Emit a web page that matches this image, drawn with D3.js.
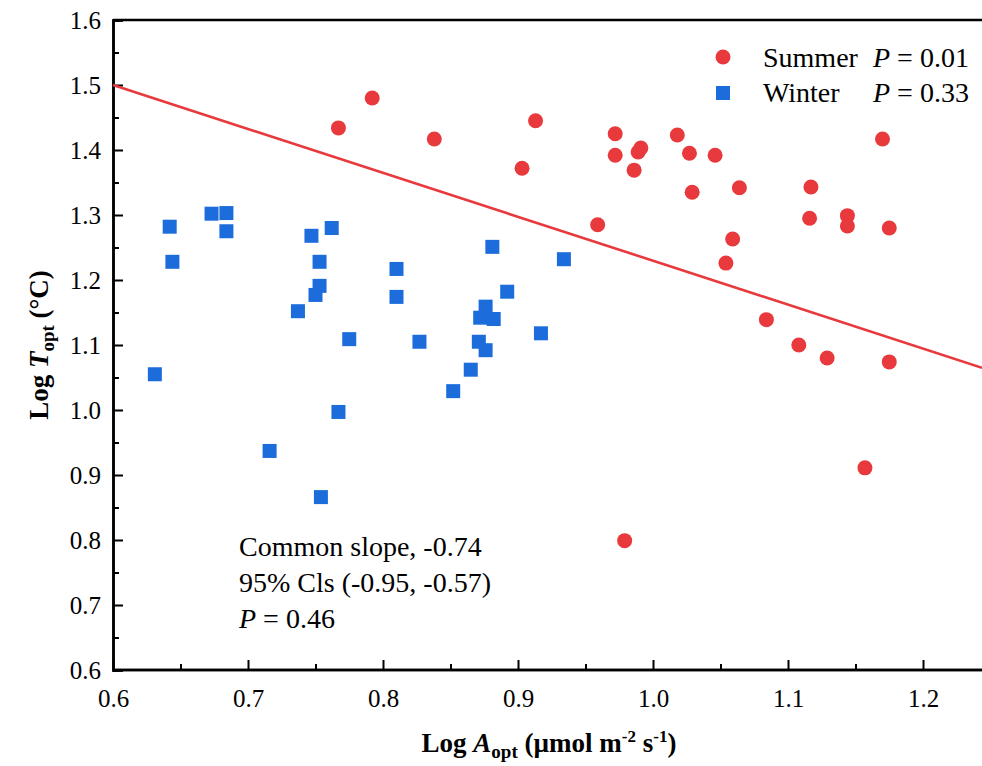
<!DOCTYPE html>
<html>
<head>
<meta charset="utf-8">
<script src="https://cdn.jsdelivr.net/npm/d3@7"></script>
<style>
  body { margin: 0; background: #fff; }
  svg text { font-family: "Times New Roman", "Liberation Serif", "DejaVu Serif", serif; fill: #000; }
</style>
</head>
<body>
<div id="chart"></div>
<script>
// summer points (log A_opt, log T_opt)
var summerX = [0.767, 0.792, 0.838, 0.903, 0.913, 0.959, 0.972, 0.972, 0.979, 0.986, 0.989, 0.991,
  1.018, 1.027, 1.029, 1.046, 1.054, 1.059, 1.064, 1.084, 1.108, 1.116, 1.117, 1.129, 1.144, 1.144,
  1.157, 1.170, 1.175, 1.175];
var summerY = [1.434, 1.480, 1.417, 1.372, 1.445, 1.285, 1.425, 1.392, 0.799, 1.369, 1.397, 1.403,
  1.423, 1.395, 1.335, 1.392, 1.226, 1.263, 1.342, 1.139, 1.100, 1.295, 1.343, 1.080, 1.299, 1.283,
  0.911, 1.417, 1.280, 1.074];

// winter points
var winterX = [0.631, 0.642, 0.644, 0.673, 0.684, 0.684, 0.716, 0.737, 0.747, 0.750, 0.753, 0.753,
  0.754, 0.762, 0.767, 0.775, 0.810, 0.810, 0.827, 0.852, 0.865, 0.871, 0.872, 0.876, 0.876, 0.881,
  0.882, 0.892, 0.917, 0.934];
var winterY = [1.055, 1.282, 1.228, 1.302, 1.303, 1.275, 0.937, 1.152, 1.268, 1.177, 1.191, 1.228,
  0.866, 1.280, 0.997, 1.109, 1.217, 1.174, 1.105, 1.029, 1.062, 1.105, 1.142, 1.159, 1.092, 1.251,
  1.140, 1.182, 1.118, 1.232];

// common slope line
var lineX = [0.6, 1.2437];
var lineY = [1.5, 1.065];

var xTicks = [0.6, 0.7, 0.8, 0.9, 1.0, 1.1, 1.2];
var yTicks = [0.6, 0.7, 0.8, 0.9, 1.0, 1.1, 1.2, 1.3, 1.4, 1.5, 1.6];

var legendLabels = ["Summer", "Winter"];
var legendP = ["0.01", "0.33"];
var noteLines = ["Common slope, -0.74", "95% Cls (-0.95, -0.57)"];
var noteP = "0.46";

var red = "#e8393d", blue = "#1c6ddb";
var serif = '"Times New Roman", "Liberation Serif", serif';

var W = 982, H = 766;
var margin = {top: 20, right: 0, bottom: 96, left: 113};

var svg = d3.select("#chart").append("svg")
  .attr("width", W).attr("height", H)
  .attr("font-family", serif);

var x = d3.scaleLinear().domain([0.6, 1.2437]).range([margin.left, W - margin.right]);
var y = d3.scaleLinear().domain([0.6, 1.6]).range([H - margin.bottom, margin.top]);

var minorX = d3.range(0.65, 1.25, 0.1);
var minorY = d3.range(0.65, 1.6, 0.1);

// top frame line
svg.append("line")
  .attr("x1", margin.left).attr("x2", W)
  .attr("y1", margin.top).attr("y2", margin.top)
  .attr("stroke", "#000").attr("stroke-width", 2.5);

// x axis
var gx = svg.append("g").attr("transform", "translate(0," + (H - margin.bottom) + ")");
gx.call(d3.axisBottom(x).tickValues(xTicks).tickSize(-10).tickPadding(19).tickFormat(d3.format(".1f")));
gx.append("g").call(d3.axisBottom(x).tickValues(minorX).tickSize(-6).tickFormat(""));
gx.attr("font-family", serif);
gx.selectAll(".domain").attr("stroke-width", 2.5).attr("d", "M" + margin.left + ",0H" + W);
gx.selectAll(".tick line").attr("stroke-width", 2);
gx.selectAll(".tick text").attr("font-family", serif).attr("font-size", 25);

// y axis
var gy = svg.append("g").attr("transform", "translate(" + margin.left + ",0)");
gy.call(d3.axisLeft(y).tickValues(yTicks).tickSize(-10).tickPadding(12).tickFormat(d3.format(".1f")));
gy.append("g").call(d3.axisLeft(y).tickValues(minorY).tickSize(-6).tickFormat(""));
gy.attr("font-family", serif);
gy.selectAll(".domain").attr("stroke-width", 2.5);
gy.selectAll(".tick line").attr("stroke-width", 2);
gy.selectAll(".tick text").attr("font-family", serif).attr("font-size", 25);

// fitted line
svg.append("path")
  .datum(d3.zip(lineX, lineY))
  .attr("d", d3.line().x(function(d) { return x(d[0]); }).y(function(d) { return y(d[1]); }))
  .attr("fill", "none").attr("stroke", red).attr("stroke-width", 2.6);

// winter squares
var s = 14;
svg.append("g").selectAll("rect")
  .data(d3.zip(winterX, winterY))
  .enter().append("rect")
    .attr("x", function(d) { return x(d[0]) - s / 2; })
    .attr("y", function(d) { return y(d[1]) - s / 2; })
    .attr("width", s).attr("height", s)
    .attr("fill", blue);

// summer circles
svg.append("g").selectAll("circle")
  .data(d3.zip(summerX, summerY))
  .enter().append("circle")
    .attr("cx", function(d) { return x(d[0]); })
    .attr("cy", function(d) { return y(d[1]); })
    .attr("r", 7.5)
    .attr("fill", red);

// legend
var leg = svg.append("g");
leg.append("circle").attr("cx", 723).attr("cy", 57).attr("r", 7.5).attr("fill", red);
leg.append("rect").attr("x", 716).attr("y", 86).attr("width", s).attr("height", s).attr("fill", blue);
legendLabels.forEach(function(lab, i) {
  leg.append("text").attr("x", 763).attr("y", 67 + i * 35).attr("font-size", 28).text(lab);
  var t = leg.append("text").attr("x", 873).attr("y", 67 + i * 35).attr("font-size", 28);
  t.append("tspan").attr("font-style", "italic").text("P");
  t.append("tspan").text(" = " + legendP[i]);
});

// note
noteLines.forEach(function(l, i) {
  svg.append("text").attr("x", 239).attr("y", 556 + i * 36).attr("font-size", 28).text(l);
});
var np = svg.append("text").attr("x", 239).attr("y", 628).attr("font-size", 28);
np.append("tspan").attr("font-style", "italic").text("P");
np.append("tspan").text(" = " + noteP);

// axis titles
var xt = svg.append("text").attr("x", 549).attr("y", 752)
  .attr("text-anchor", "middle").attr("font-size", 27).attr("font-weight", "bold");
xt.append("tspan").text("Log ");
xt.append("tspan").attr("font-style", "italic").text("A");
xt.append("tspan").attr("dy", 6).attr("font-size", 19).text("opt");
xt.append("tspan").attr("dy", -6).text(" (µmol m");
xt.append("tspan").attr("dy", -10).attr("font-size", 17).text("-2");
xt.append("tspan").attr("dy", 10).text(" s");
xt.append("tspan").attr("dy", -10).attr("font-size", 17).text("-1");
xt.append("tspan").attr("dy", 10).text(")");

var yt = svg.append("text")
  .attr("transform", "translate(48," + (margin.top + (H - margin.bottom - margin.top) / 2) + ") rotate(-90)")
  .attr("text-anchor", "middle").attr("font-size", 27).attr("font-weight", "bold");
yt.append("tspan").text("Log ");
yt.append("tspan").attr("font-style", "italic").text("T");
yt.append("tspan").attr("dy", 6).attr("font-size", 19).text("opt");
yt.append("tspan").attr("dy", -6).text(" (°C)");
</script>
</body>
</html>
